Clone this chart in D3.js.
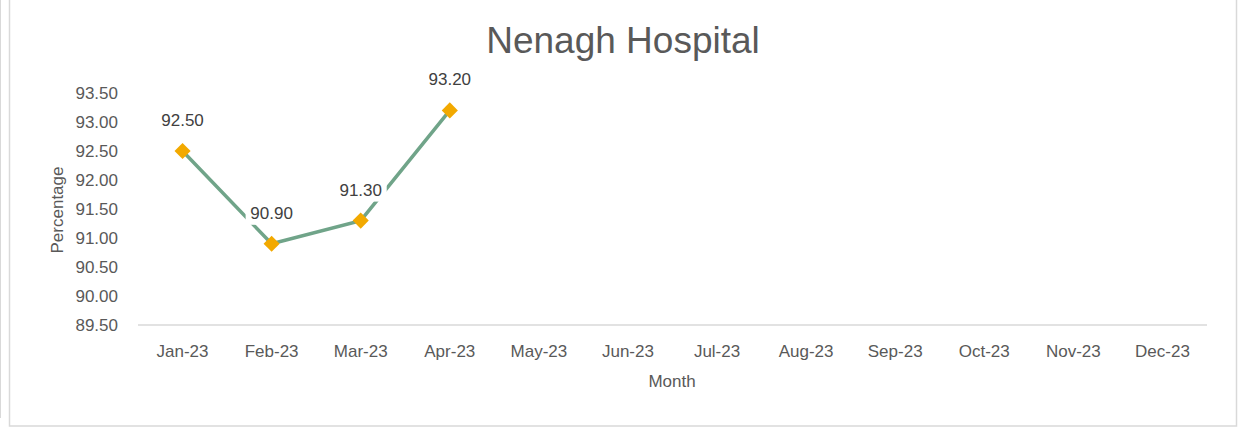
<!DOCTYPE html>
<html>
<head>
<meta charset="utf-8">
<script src="https://cdn.jsdelivr.net/npm/d3@7"></script>
<style>
  body { margin: 0; background: #fff; }
  svg { display: block; font-family: "Liberation Sans", Arial, sans-serif; }
</style>
</head>
<body>
<div id="chart"></div>
<script>
// Chart data
const months = ["Jan-23", "Feb-23", "Mar-23", "Apr-23", "May-23", "Jun-23",
                "Jul-23", "Aug-23", "Sep-23", "Oct-23", "Nov-23", "Dec-23"];
const values = [92.5, 90.9, 91.3, 93.2, null, null, null, null, null, null, null, null];
const yTicks = [89.5, 90, 90.5, 91, 91.5, 92, 92.5, 93, 93.5];

const width = 1240, height = 428;
const margin = { top: 93, right: 33, bottom: 104, left: 138 };

const svg = d3.select("#chart").append("svg")
    .attr("width", width)
    .attr("height", height);

// outer frame lines
svg.append("line")
    .attr("x1", 0.5).attr("x2", 0.5).attr("y1", 0).attr("y2", 418)
    .attr("stroke", "#d9d9d9");
svg.append("rect")
    .attr("x", 9.5).attr("y", -2)
    .attr("width", 1227).attr("height", 428)
    .attr("fill", "none")
    .attr("stroke", "#d9d9d9")
    .attr("stroke-width", 1.5);

const x = d3.scaleBand()
    .domain(months)
    .range([margin.left, width - margin.right]);

const y = d3.scaleLinear()
    .domain([89.5, 93.5])
    .range([height - margin.bottom + 1, margin.top]);

// Title
svg.append("text")
    .attr("x", 623)
    .attr("y", 53)
    .attr("text-anchor", "middle")
    .attr("fill", "#595959")
    .style("font-size", "37px")
    .text("Nenagh Hospital");

// Y axis labels (no line)
svg.append("g")
    .selectAll("text")
    .data(yTicks)
    .enter()
    .append("text")
    .attr("x", 118)
    .attr("y", d => y(d))
    .attr("dy", "0.35em")
    .attr("text-anchor", "end")
    .attr("fill", "#595959")
    .style("font-size", "17px")
    .text(d => d.toFixed(2));

// X axis line
svg.append("line")
    .attr("x1", margin.left).attr("x2", width - margin.right)
    .attr("y1", y(89.5)).attr("y2", y(89.5))
    .attr("stroke", "#d9d9d9")
    .attr("stroke-width", 1.5);

// X axis labels
svg.append("g")
    .selectAll("text")
    .data(months)
    .enter()
    .append("text")
    .attr("x", d => x(d) + x.bandwidth() / 2)
    .attr("y", 357)
    .attr("text-anchor", "middle")
    .attr("fill", "#595959")
    .style("font-size", "17px")
    .text(d => d);

// Axis titles
svg.append("text")
    .attr("x", 672)
    .attr("y", 387)
    .attr("text-anchor", "middle")
    .attr("fill", "#595959")
    .style("font-size", "17px")
    .text("Month");

svg.append("text")
    .attr("transform", "translate(63,210) rotate(-90)")
    .attr("text-anchor", "middle")
    .attr("fill", "#595959")
    .style("font-size", "17px")
    .text("Percentage");

const points = months.map((m, i) => ({ month: m, value: values[i] }))
    .filter(d => d.value != null);

const cx = d => x(d.month) + x.bandwidth() / 2;

// Line
const line = d3.line()
    .x(cx)
    .y(d => y(d.value));

svg.append("path")
    .datum(points)
    .attr("d", line)
    .attr("fill", "none")
    .attr("stroke", "#70a489")
    .attr("stroke-width", 3.5);

// Data labels with white background
const labels = svg.append("g")
    .selectAll("g")
    .data(points)
    .enter()
    .append("g")
    .attr("transform", d => `translate(${cx(d)},${y(d.value) - 31})`);

labels.append("rect")
    .attr("x", -26).attr("y", -12)
    .attr("width", 52).attr("height", 24)
    .attr("fill", "#fff");

labels.append("text")
    .attr("text-anchor", "middle")
    .attr("dy", "0.35em")
    .attr("fill", "#404040")
    .style("font-size", "17px")
    .text(d => d.value.toFixed(2));

// Diamond markers
svg.append("g")
    .selectAll("path")
    .data(points)
    .enter()
    .append("path")
    .attr("d", d3.symbol().type(d3.symbolSquare).size(130))
    .attr("transform", d => `translate(${cx(d)},${y(d.value)}) rotate(45)`)
    .attr("fill", "#f2a900");
</script>
</body>
</html>
